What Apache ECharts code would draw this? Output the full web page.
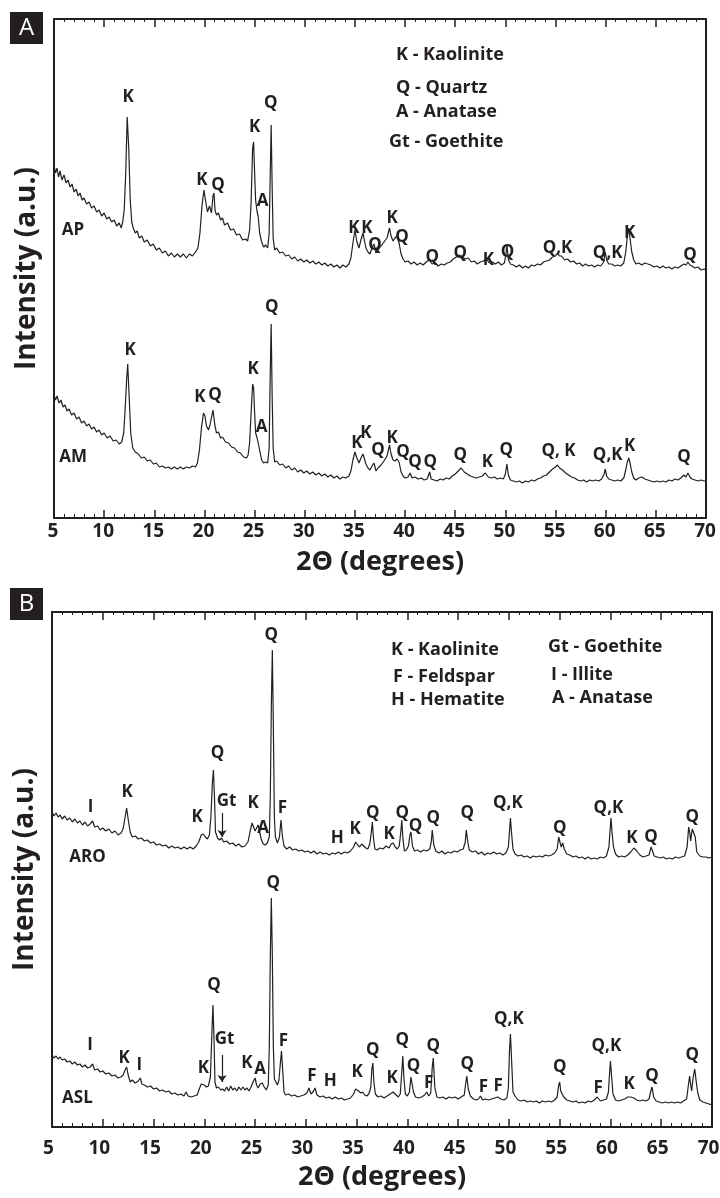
<!DOCTYPE html>
<html>
<head>
<meta charset="utf-8">
<script src="https://cdn.jsdelivr.net/npm/echarts@6/dist/echarts.min.js"></script>
<style>
html, body { margin: 0; padding: 0; background: #fff; }
#chart { width: 720px; height: 1198px; }
</style>
</head>
<body>
<div id="chart"></div>
<script>
// x range (2 theta, degrees)
var xMin = 5, xMax = 70, xStep = 5;

// panel A patterns, [2theta, intensity a.u.]
var apData = [[5.0,353],[5.15,345],[5.3,350],[5.45,341],[5.6,347],[5.8,338],[6.0,343],[6.2,335],[6.4,338],[6.6,331],[6.8,334],[7.0,326],[7.2,329],[7.4,322],[7.6,325],[7.8,318],[8.0,320],[8.25,314],[8.5,316],[8.75,310],[9.0,312],[9.25,306],[9.5,308],[9.75,302],[10.0,305],[10.25,299],[10.5,301],[10.75,296],[11.0,298],[11.25,292],[11.5,295],[11.7,290],[11.85,296],[12.0,308],[12.15,345],[12.3,401],[12.45,370],[12.6,318],[12.75,296],[12.9,290],[13.1,285],[13.3,287],[13.5,280],[13.75,282],[14.0,276],[14.3,278],[14.6,272],[14.9,274],[15.2,268],[15.5,270],[15.8,265],[16.1,267],[16.4,262],[16.7,265],[17.0,261],[17.3,264],[17.6,261],[17.9,264],[18.2,260],[18.5,264],[18.8,262],[19.1,266],[19.35,270],[19.55,285],[19.75,312],[19.95,328],[20.1,318],[20.3,306],[20.5,312],[20.7,305],[20.85,322],[20.95,325],[21.05,308],[21.2,303],[21.4,305],[21.6,298],[21.8,300],[22.0,293],[22.3,295],[22.6,288],[22.9,289],[23.2,283],[23.5,284],[23.8,278],[24.1,279],[24.3,277],[24.5,288],[24.65,315],[24.8,370],[24.9,376],[25.0,345],[25.1,318],[25.25,306],[25.35,302],[25.5,285],[25.7,276],[25.9,271],[26.1,273],[26.3,270],[26.45,285],[26.55,340],[26.65,393],[26.75,330],[26.85,280],[27.0,268],[27.2,270],[27.5,265],[27.8,266],[28.1,262],[28.4,263],[28.7,259],[29.0,261],[29.3,257],[29.6,259],[29.9,256],[30.2,258],[30.5,255],[30.8,257],[31.1,254],[31.4,256],[31.7,253],[32.0,255],[32.3,252],[32.6,254],[32.9,251],[33.2,253],[33.5,250],[33.8,253],[34.1,251],[34.4,254],[34.6,260],[34.8,275],[35.0,288],[35.2,276],[35.4,270],[35.6,278],[35.8,285],[35.95,286],[36.1,270],[36.3,266],[36.5,264],[36.7,270],[36.9,274],[37.1,265],[37.3,268],[37.6,272],[37.9,276],[38.2,280],[38.45,290],[38.6,282],[38.8,277],[39.0,280],[39.2,282],[39.4,275],[39.6,264],[39.8,259],[40.0,256],[40.3,257],[40.6,254],[40.9,256],[41.2,253],[41.5,255],[41.8,253],[42.1,256],[42.4,258],[42.7,254],[43.0,255],[43.3,252],[43.6,254],[43.9,253],[44.2,255],[44.5,256],[44.8,259],[45.1,261],[45.4,263],[45.7,261],[46.0,259],[46.3,260],[46.6,256],[46.9,257],[47.2,254],[47.5,256],[47.8,257],[48.1,259],[48.4,255],[48.7,256],[49.0,254],[49.3,256],[49.6,253],[49.9,255],[50.05,263],[50.15,273],[50.3,258],[50.5,254],[50.8,253],[51.1,251],[51.4,253],[51.7,250],[52.0,252],[52.3,250],[52.6,253],[52.9,252],[53.2,254],[53.5,253],[53.8,256],[54.1,257],[54.4,258],[54.7,261],[55.0,262],[55.2,265],[55.4,262],[55.6,262],[55.9,258],[56.2,259],[56.5,256],[56.8,257],[57.1,254],[57.4,255],[57.7,252],[58.0,254],[58.3,252],[58.6,253],[58.9,251],[59.2,253],[59.5,252],[59.8,256],[59.95,266],[60.1,258],[60.3,254],[60.6,254],[60.9,252],[61.2,253],[61.5,252],[61.8,255],[62.0,266],[62.15,281],[62.3,290],[62.45,278],[62.6,266],[62.8,258],[63.0,254],[63.3,255],[63.6,253],[63.9,255],[64.2,254],[64.5,253],[64.8,251],[65.1,252],[65.4,250],[65.7,252],[66.0,250],[66.3,251],[66.6,249],[66.9,251],[67.2,250],[67.5,252],[67.8,254],[68.0,253],[68.2,256],[68.4,253],[68.6,252],[68.9,250],[69.2,251],[69.5,248],[69.8,249],[70.0,248]];

var amData = [[5.0,123],[5.15,118],[5.3,122],[5.5,115],[5.7,118],[5.9,111],[6.1,113],[6.3,107],[6.5,109],[6.75,103],[7.0,105],[7.25,99],[7.5,101],[7.75,95],[8.0,97],[8.25,92],[8.5,94],[8.75,89],[9.0,91],[9.25,86],[9.5,88],[9.75,83],[10.0,85],[10.3,80],[10.6,82],[10.9,77],[11.2,78],[11.5,74],[11.75,76],[11.95,85],[12.1,110],[12.25,140],[12.35,154],[12.5,120],[12.65,85],[12.85,70],[13.1,66],[13.4,64],[13.7,60],[14.0,61],[14.3,57],[14.6,58],[14.9,54],[15.2,55],[15.5,51],[15.8,52],[16.1,50],[16.4,51],[16.7,49],[17.0,51],[17.3,49],[17.6,51],[17.9,49],[18.2,51],[18.5,50],[18.8,52],[19.1,51],[19.3,55],[19.5,68],[19.7,90],[19.9,105],[20.05,102],[20.2,92],[20.4,88],[20.55,93],[20.7,95],[20.85,108],[20.95,110],[21.05,92],[21.2,85],[21.4,86],[21.6,80],[21.8,81],[22.1,76],[22.4,75],[22.7,71],[23.0,70],[23.3,66],[23.6,65],[23.9,61],[24.2,60],[24.35,63],[24.5,75],[24.65,105],[24.8,134],[24.9,130],[25.0,105],[25.1,85],[25.25,80],[25.35,82],[25.5,68],[25.7,58],[25.9,55],[26.1,56],[26.3,55],[26.45,70],[26.55,140],[26.65,194],[26.75,120],[26.85,70],[27.0,56],[27.2,57],[27.5,53],[27.8,54],[28.1,50],[28.4,52],[28.7,48],[29.0,50],[29.3,46],[29.6,48],[29.9,45],[30.2,47],[30.5,44],[30.8,46],[31.1,43],[31.4,45],[31.7,42],[32.0,44],[32.3,41],[32.6,43],[32.9,40],[33.2,42],[33.5,39],[33.8,41],[34.1,40],[34.4,42],[34.6,47],[34.8,58],[35.0,66],[35.2,60],[35.4,55],[35.6,60],[35.8,64],[35.95,66],[36.1,54],[36.3,50],[36.5,48],[36.7,52],[36.9,55],[37.1,47],[37.3,50],[37.6,53],[37.9,57],[38.2,62],[38.45,73],[38.6,64],[38.8,58],[39.0,57],[39.2,59],[39.4,56],[39.6,46],[39.8,42],[40.0,40],[40.3,41],[40.5,45],[40.7,40],[41.0,41],[41.3,39],[41.6,40],[41.9,38],[42.2,39],[42.45,46],[42.6,39],[42.9,38],[43.2,37],[43.5,39],[43.8,38],[44.1,40],[44.4,39],[44.7,42],[45.0,44],[45.3,47],[45.6,50],[45.9,46],[46.2,44],[46.5,42],[46.8,41],[47.1,40],[47.4,41],[47.7,42],[48.0,45],[48.3,41],[48.6,40],[48.9,41],[49.2,39],[49.5,40],[49.8,39],[50.0,44],[50.15,54],[50.3,43],[50.5,38],[50.8,37],[51.1,36],[51.4,37],[51.7,35],[52.0,37],[52.3,36],[52.6,38],[52.9,37],[53.2,39],[53.5,40],[53.8,42],[54.1,43],[54.4,46],[54.7,49],[55.0,51],[55.2,53],[55.4,50],[55.7,48],[56.0,45],[56.3,43],[56.6,41],[56.9,40],[57.2,38],[57.5,37],[57.8,38],[58.1,36],[58.4,38],[58.7,37],[59.0,38],[59.3,37],[59.6,39],[59.85,44],[59.95,49],[60.1,42],[60.3,39],[60.6,38],[60.9,37],[61.2,38],[61.5,37],[61.8,40],[62.0,48],[62.15,56],[62.3,60],[62.45,54],[62.6,46],[62.8,40],[63.0,38],[63.3,40],[63.6,41],[63.9,39],[64.2,38],[64.5,37],[64.8,36],[65.1,37],[65.4,36],[65.7,37],[66.0,36],[66.3,38],[66.6,37],[66.9,39],[67.2,38],[67.5,40],[67.8,43],[68.0,41],[68.2,45],[68.4,41],[68.6,39],[68.9,38],[69.2,37],[69.5,38],[69.8,37],[70.0,37]];

// panel B patterns
var aroData = [[5.0,315],[5.2,311],[5.4,314],[5.6,310],[5.8,312],[6.0,308],[6.25,311],[6.5,307],[6.75,309],[7.0,305],[7.25,308],[7.5,304],[7.75,306],[8.0,302],[8.25,305],[8.5,301],[8.75,303],[9.0,306],[9.2,300],[9.5,301],[9.75,297],[10.0,299],[10.3,296],[10.6,298],[10.9,294],[11.2,296],[11.5,292],[11.8,294],[12.0,298],[12.2,310],[12.35,319],[12.5,308],[12.7,295],[12.9,290],[13.2,291],[13.5,288],[13.8,289],[14.1,286],[14.4,287],[14.7,284],[15.0,285],[15.3,282],[15.6,283],[15.9,281],[16.2,282],[16.5,279],[16.8,281],[17.1,279],[17.4,280],[17.7,278],[18.0,280],[18.3,278],[18.6,280],[18.9,278],[19.2,281],[19.45,285],[19.7,292],[19.9,293],[20.1,290],[20.3,288],[20.5,292],[20.65,310],[20.8,345],[20.9,357],[21.0,330],[21.1,295],[21.3,289],[21.5,287],[21.7,289],[21.9,285],[22.2,286],[22.5,283],[22.8,284],[23.1,281],[23.4,283],[23.7,280],[24.0,281],[24.3,285],[24.5,295],[24.7,304],[24.85,305],[25.0,296],[25.15,294],[25.3,302],[25.45,300],[25.6,288],[25.8,283],[26.0,282],[26.2,284],[26.4,290],[26.5,330],[26.6,420],[26.7,477],[26.8,400],[26.9,310],[27.0,290],[27.2,284],[27.4,290],[27.55,307],[27.7,290],[27.85,281],[28.1,278],[28.4,280],[28.7,277],[29.0,278],[29.3,276],[29.6,277],[29.9,275],[30.2,276],[30.5,274],[30.8,276],[31.1,273],[31.4,275],[31.7,273],[32.0,274],[32.3,272],[32.6,274],[32.9,273],[33.2,275],[33.5,273],[33.8,275],[34.1,274],[34.4,276],[34.7,280],[34.9,285],[35.1,282],[35.3,280],[35.5,283],[35.7,281],[35.9,279],[36.1,278],[36.3,283],[36.45,295],[36.55,305],[36.65,290],[36.8,278],[37.0,277],[37.3,279],[37.6,278],[37.9,281],[38.2,279],[38.4,283],[38.6,284],[38.8,280],[39.0,278],[39.2,281],[39.35,295],[39.45,307],[39.55,290],[39.7,276],[39.9,277],[40.1,281],[40.25,292],[40.35,295],[40.5,281],[40.7,276],[41.0,277],[41.3,275],[41.6,277],[41.9,276],[42.2,278],[42.35,285],[42.45,297],[42.6,282],[42.8,276],[43.1,274],[43.4,276],[43.7,273],[44.0,275],[44.3,274],[44.6,276],[44.9,275],[45.2,277],[45.5,278],[45.7,285],[45.8,297],[45.95,285],[46.1,277],[46.4,275],[46.7,276],[47.0,273],[47.3,275],[47.6,272],[47.9,274],[48.2,273],[48.5,275],[48.8,273],[49.1,274],[49.4,272],[49.7,274],[49.95,280],[50.05,295],[50.15,309],[50.25,295],[50.4,278],[50.6,273],[50.9,271],[51.2,272],[51.5,270],[51.8,271],[52.1,269],[52.4,271],[52.7,270],[53.0,271],[53.3,270],[53.6,272],[53.9,271],[54.2,272],[54.5,274],[54.75,278],[54.9,290],[55.0,286],[55.15,280],[55.3,284],[55.45,278],[55.7,273],[56.0,272],[56.3,270],[56.6,271],[56.9,269],[57.2,270],[57.5,268],[57.8,270],[58.1,268],[58.4,269],[58.7,268],[59.0,270],[59.3,269],[59.6,271],[59.85,280],[59.95,295],[60.05,309],[60.15,295],[60.3,280],[60.5,273],[60.8,270],[61.1,271],[61.4,270],[61.7,272],[62.0,275],[62.3,279],[62.6,276],[62.9,272],[63.2,270],[63.5,271],[63.8,272],[64.0,280],[64.15,276],[64.3,271],[64.6,270],[64.9,269],[65.2,270],[65.5,268],[65.8,269],[66.1,268],[66.4,270],[66.7,269],[67.0,270],[67.3,271],[67.55,280],[67.7,300],[67.8,295],[67.9,286],[68.05,298],[68.2,300],[68.35,290],[68.5,275],[68.8,271],[69.1,270],[69.4,270],[69.7,269],[70.0,270]];

var aslData = [[5.0,72],[5.2,69],[5.4,71],[5.6,68],[5.8,70],[6.0,67],[6.25,68],[6.5,65],[6.75,66],[7.0,63],[7.25,65],[7.5,62],[7.75,63],[8.0,60],[8.25,62],[8.5,59],[8.75,60],[9.0,63],[9.2,57],[9.5,58],[9.75,55],[10.0,56],[10.3,53],[10.6,54],[10.9,51],[11.2,52],[11.5,49],[11.8,50],[12.0,52],[12.2,57],[12.35,60],[12.5,52],[12.7,45],[12.9,47],[13.2,44],[13.5,46],[13.7,49],[13.85,43],[14.1,42],[14.4,40],[14.7,41],[15.0,38],[15.3,39],[15.6,36],[15.9,37],[16.2,35],[16.5,36],[16.8,33],[17.1,34],[17.4,32],[17.7,33],[18.0,31],[18.2,35],[18.4,31],[18.7,30],[19.0,31],[19.3,32],[19.5,38],[19.7,43],[19.85,45],[20.0,42],[20.2,40],[20.4,41],[20.6,50],[20.75,95],[20.85,122],[20.95,90],[21.05,45],[21.2,39],[21.4,40],[21.6,37],[21.8,38],[22.0,36],[22.2,40],[22.4,36],[22.6,41],[22.8,37],[23.0,39],[23.2,36],[23.4,40],[23.6,37],[23.8,40],[24.0,37],[24.2,39],[24.4,36],[24.6,40],[24.8,45],[25.0,49],[25.15,42],[25.3,39],[25.5,43],[25.7,44],[25.9,40],[26.1,37],[26.3,42],[26.4,80],[26.5,170],[26.6,229],[26.7,170],[26.8,80],[26.9,48],[27.05,46],[27.2,42],[27.35,47],[27.5,65],[27.6,76],[27.7,60],[27.85,35],[28.0,32],[28.3,33],[28.6,31],[28.9,32],[29.2,30],[29.5,31],[29.8,32],[30.1,34],[30.3,39],[30.5,33],[30.7,35],[30.9,39],[31.1,32],[31.4,30],[31.7,31],[32.0,29],[32.3,30],[32.6,28],[32.9,30],[33.2,28],[33.5,29],[33.8,27],[34.1,28],[34.4,29],[34.7,33],[34.9,38],[35.05,40],[35.2,36],[35.4,34],[35.6,35],[35.8,32],[36.0,31],[36.2,33],[36.4,40],[36.5,58],[36.6,64],[36.7,45],[36.85,33],[37.1,30],[37.4,31],[37.7,29],[38.0,31],[38.3,33],[38.6,35],[38.9,32],[39.1,30],[39.3,33],[39.45,55],[39.55,71],[39.65,50],[39.8,33],[40.0,31],[40.2,35],[40.35,50],[40.45,51],[40.6,35],[40.8,30],[41.1,29],[41.4,30],[41.7,32],[41.9,35],[42.1,31],[42.3,34],[42.45,60],[42.55,69],[42.7,40],[42.9,30],[43.2,29],[43.5,30],[43.8,28],[44.1,30],[44.4,29],[44.7,30],[45.0,28],[45.3,30],[45.6,32],[45.75,44],[45.85,51],[46.0,38],[46.2,31],[46.5,28],[46.8,27],[47.0,28],[47.2,31],[47.4,27],[47.7,28],[48.0,27],[48.3,28],[48.6,29],[48.9,30],[49.2,28],[49.5,27],[49.8,29],[49.95,40],[50.05,75],[50.15,93],[50.25,70],[50.4,35],[50.6,31],[50.9,27],[51.2,26],[51.5,27],[51.8,25],[52.1,26],[52.4,25],[52.7,26],[53.0,24],[53.3,26],[53.6,25],[53.9,26],[54.2,25],[54.5,27],[54.75,30],[54.9,42],[55.0,45],[55.1,36],[55.25,33],[55.4,30],[55.7,27],[56.0,26],[56.3,25],[56.6,26],[56.9,24],[57.2,25],[57.5,24],[57.8,26],[58.1,25],[58.4,27],[58.7,30],[59.0,26],[59.3,27],[59.6,28],[59.8,35],[59.9,52],[60.0,66],[60.1,52],[60.25,33],[60.5,27],[60.8,26],[61.1,27],[61.4,28],[61.7,30],[62.0,30],[62.3,29],[62.6,27],[62.9,26],[63.2,27],[63.5,26],[63.8,28],[64.0,37],[64.1,40],[64.25,30],[64.5,26],[64.8,25],[65.1,24],[65.4,25],[65.7,24],[66.0,25],[66.3,24],[66.6,25],[66.9,24],[67.2,26],[67.5,28],[67.7,44],[67.8,51],[67.9,42],[68.0,36],[68.15,50],[68.3,58],[68.45,45],[68.6,34],[68.8,27],[69.1,25],[69.4,24],[69.7,23],[70.0,22]];

// peak labels, [2theta, intensity, text]
var labelsA = [[12.4,421,'K'],[19.75,338,'K'],[21.35,333,'Q'],[25.0,391,'K'],[25.8,317,'A'],[26.6,415,'Q'],[34.9,290,'K'],[36.2,290,'K'],[37.0,273,'Q'],[38.7,300,'K'],[39.7,281,'Q'],[42.7,261,'Q'],[45.5,265,'Q'],[48.3,258,'K'],[50.2,266,'Q'],[55.2,270,'Q,K'],[60.2,265,'Q,K'],[62.4,285,'K'],[68.4,263,'Q'],[6.9,288,'AP'],
  [12.6,168,'K'],[19.55,121,'K'],[21.05,123,'Q'],[24.85,149,'K'],[25.7,91,'A'],[26.7,211,'Q'],[35.2,75,'K'],[36.1,85,'K'],[37.3,68,'Q'],[38.7,80,'K'],[39.8,66,'Q'],[41.0,56,'Q'],[42.5,56,'Q'],[45.5,63,'Q'],[48.2,56,'K'],[50.1,68,'Q'],[55.3,67,'Q, K'],[60.2,63,'Q,K'],[62.4,72,'K'],[67.8,61,'Q'],[6.9,61,'AM']];

var labelsB = [[8.8,320,'I'],[12.4,335,'K'],[19.3,310,'K'],[21.3,374,'Q'],[22.2,326,'Gt'],[24.8,324,'K'],[25.8,299,'A'],[26.6,492,'Q'],[27.7,319,'F'],[33.1,289,'H'],[34.85,298,'K'],[36.6,314,'Q'],[38.2,293,'K'],[39.5,314,'Q'],[40.8,301,'Q'],[42.55,309,'Q'],[45.9,314,'Q'],[49.9,324,'Q,K'],[55.0,299,'Q'],[59.8,319,'Q,K'],[62.1,289,'K'],[64.0,290,'Q'],[68.05,310,'Q'],[8.5,270,'ARO'],
  [8.75,82,'I'],[12.1,69,'K'],[13.6,62,'I'],[19.9,59,'K'],[20.95,142,'Q'],[22.0,88,'Gt'],[24.2,64,'K'],[25.5,58,'A'],[26.8,244,'Q'],[27.8,86,'F'],[30.6,51,'F'],[32.4,46,'H'],[35.05,55,'K'],[36.6,77,'Q'],[38.5,49,'K'],[39.5,87,'Q'],[40.6,61,'Q'],[42.1,44,'F'],[42.55,81,'Q'],[45.9,63,'Q'],[47.5,40,'F'],[48.95,41,'F'],[50.0,108,'Q,K'],[55.0,60,'Q'],[58.8,39,'F'],[59.6,81,'Q,K'],[61.85,43,'K'],[64.1,51,'Q'],[68.05,72,'Q'],[7.5,29,'ASL']];

// goethite arrows in panel B: [2theta, from, to]
var gtArrows = [[21.75,314,290],[21.75,72,45]];

var legendA = ['K - Kaolinite', 'Q - Quartz', 'A - Anatase', 'Gt - Goethite'];
var legendB1 = ['K - Kaolinite', 'F - Feldspar', 'H - Hematite'];
var legendB2 = ['Gt - Goethite', 'I - Illite', 'A - Anatase'];

var ink = '#231f20';
var fam = '"Open Sans", Lato, sans-serif';

function xAxisBottom(g, margin, gap, pad) {
  return {
    type: 'value', gridIndex: g, min: xMin, max: xMax, interval: xStep, position: 'bottom',
    axisLine: { show: true, onZero: false, lineStyle: { color: ink, width: 2 } },
    axisTick: { show: true, inside: true, length: 8, lineStyle: { color: ink, width: 1.5 } },
    minorTick: { show: true, splitNumber: 5, length: 4, lineStyle: { color: ink, width: 1 } },
    axisLabel: { margin: margin, padding: pad, color: ink, fontFamily: fam, fontWeight: 'bold', fontSize: 19 },
    splitLine: { show: false },
    name: '2\u0398 (degrees)', nameLocation: 'middle', nameGap: gap,
    nameTextStyle: { color: ink, fontFamily: fam, fontWeight: 'bold', fontSize: 27 }
  };
}
function xAxisTop(g) {
  return {
    type: 'value', gridIndex: g, min: xMin, max: xMax, interval: xStep, position: 'top',
    axisLine: { show: true, onZero: false, lineStyle: { color: ink, width: 2 } },
    axisTick: { show: true, inside: true, length: 8, lineStyle: { color: ink, width: 1.5 } },
    minorTick: { show: true, splitNumber: 5, length: 3, lineStyle: { color: ink, width: 1 } },
    axisLabel: { show: false }, splitLine: { show: false }
  };
}
function yAxisSide(g, max, side) {
  var ax = {
    type: 'value', gridIndex: g, min: 0, max: max, position: side,
    axisLine: { show: true, onZero: false, lineStyle: { color: ink, width: 2 } },
    axisTick: { show: false }, axisLabel: { show: false }, splitLine: { show: false }
  };
  if (side == 'left') {
    ax.name = 'Intensity (a.u.)';
    ax.nameLocation = 'middle';
    ax.nameGap = 13;
    ax.nameRotate = 90;
    ax.nameTextStyle = { color: ink, fontFamily: fam, fontWeight: 'bold', fontSize: 28 };
  }
  return ax;
}
function curve(data, xi, yi) {
  return { type: 'line', data: data, xAxisIndex: xi, yAxisIndex: yi, symbol: 'none', showSymbol: false,
    lineStyle: { color: ink, width: 1.2 }, silent: true };
}
function peakLabels(data, xi, yi) {
  return { type: 'scatter', data: data, xAxisIndex: xi, yAxisIndex: yi, symbolSize: 1,
    itemStyle: { color: 'rgba(0,0,0,0)' }, silent: true,
    label: { show: true, position: 'inside', formatter: function (p) { return p.value[2]; },
      color: ink, opacity: 1, textBorderWidth: 0, fontFamily: fam, fontWeight: 'bold', fontSize: 17 } };
}
function legendText(list, x, ys) {
  var out = [];
  for (var i = 0; i < list.length; i++) {
    out.push({ type: 'text', x: x[i], y: ys[i],
      style: { text: list[i], fill: ink, font: 'bold 18px ' + fam, verticalAlign: 'middle' } });
  }
  return out;
}
function panelTag(letter, top) {
  return [
    { type: 'rect', shape: { x: 10, y: top, width: 33, height: 32 }, style: { fill: ink } },
    { type: 'text', x: 26.5, y: top + 16,
      style: { text: letter, fill: '#fff', font: '24px ' + fam, align: 'center', verticalAlign: 'middle' } }
  ];
}

var chart = echarts.init(document.getElementById('chart'));
var graphics = [].concat(
  panelTag('A', 12), panelTag('B', 588),
  legendText(legendA, [396, 396, 396, 389], [55, 88, 112, 142]),
  legendText(legendB1, [391, 393, 391], [650, 677, 700]),
  legendText(legendB2, [548, 551, 552], [647, 675, 698])
);

chart.setOption({
  animation: false,
  backgroundColor: '#fff',
  grid: [
    { left: 54, top: 19, width: 652, height: 499, outerBoundsMode: 'none' },
    { left: 52, top: 612, width: 660, height: 515, outerBoundsMode: 'none' }
  ],
  xAxis: [xAxisBottom(0, 4, 31, [0, 2, 0, 0]), xAxisTop(0), xAxisBottom(1, 12, 37, [0, 7, 0, 0]), xAxisTop(1)],
  yAxis: [yAxisSide(0, 499, 'left'), yAxisSide(0, 499, 'right'), yAxisSide(1, 515, 'left'), yAxisSide(1, 515, 'right')],
  graphic: graphics,
  series: [
    curve(apData, 0, 0),
    curve(amData, 0, 0),
    curve(aroData, 2, 2),
    curve(aslData, 2, 2),
    peakLabels(labelsA, 0, 0),
    peakLabels(labelsB, 2, 2),
    {
      type: 'lines', coordinateSystem: 'cartesian2d', xAxisIndex: 2, yAxisIndex: 2, silent: true,
      data: gtArrows.map(function (a) { return { coords: [[a[0], a[1]], [a[0], a[2]]] }; }),
      symbol: ['none', 'arrow'], symbolSize: 7,
      lineStyle: { color: ink, width: 1.2, opacity: 1 }
    }
  ]
});
</script>
</body>
</html>
